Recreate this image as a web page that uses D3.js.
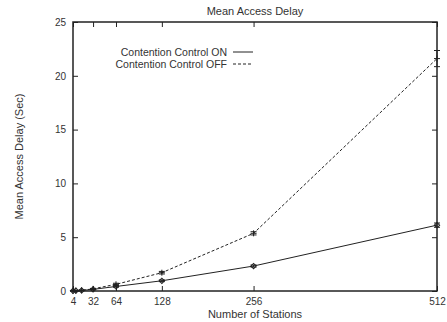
<!DOCTYPE html>
<html>
<head>
<meta charset="utf-8">
<script src="https://cdn.jsdelivr.net/npm/d3@7"></script>
<style>
  html, body { margin: 0; padding: 0; background: #fff; }
  svg { display: block; font-family: "Liberation Sans", Arial, sans-serif; }
</style>
</head>
<body>
<svg id="chart" width="447" height="322"></svg>
<script>
// Number of stations simulated
const stations = [4, 8, 16, 32, 64, 128, 256, 512];
// Mean access delay (s) with contention control enabled / disabled
const delayOn  = [0.02, 0.03, 0.05, 0.15, 0.42, 0.95, 2.32, 6.12];
const errOn    = [0.01, 0.01, 0.02, 0.03, 0.06, 0.08, 0.1, 0.2];
const delayOff = [0.02, 0.03, 0.06, 0.2, 0.62, 1.7, 5.36, 21.6];
const errOff   = [0.01, 0.01, 0.02, 0.04, 0.1, 0.12, 0.15, 0.75];
const xTicks = [4, 32, 64, 128, 256, 512];
const yTicks = [0, 5, 10, 15, 20, 25];

const series = [
  { name: "Contention Control ON",  values: delayOn,  errs: errOn,  dash: null,  marker: "diamond" },
  { name: "Contention Control OFF", values: delayOff, errs: errOff, dash: "3,2", marker: "plus" }
];

const svg = d3.select("#chart");
const m = { left: 73, right: 437, top: 22, bottom: 291 };
const x = d3.scaleLinear().domain([4, 512]).range([m.left, m.right]);
const y = d3.scaleLinear().domain([0, 25]).range([m.bottom, m.top]);
const ink = "#222";
const tick = 5;

// Axes: ticks point inward and are mirrored on the opposite side
const gB = svg.append("g").attr("transform", `translate(0,${m.bottom})`)
  .call(d3.axisBottom(x).tickValues(xTicks).tickSizeInner(-tick).tickSizeOuter(0).tickPadding(7));
const gT = svg.append("g").attr("transform", `translate(0,${m.top})`)
  .call(d3.axisTop(x).tickValues(xTicks).tickSizeInner(-tick).tickSizeOuter(0).tickFormat(""));
const gL = svg.append("g").attr("transform", `translate(${m.left},0)`)
  .call(d3.axisLeft(y).tickValues(yTicks).tickSizeInner(-tick).tickSizeOuter(0).tickPadding(7));
const gR = svg.append("g").attr("transform", `translate(${m.right},0)`)
  .call(d3.axisRight(y).tickValues(yTicks).tickSizeInner(-tick).tickSizeOuter(0).tickFormat(""));
[gB, gT, gL, gR].forEach(g => {
  g.select(".domain").remove();
  g.selectAll("line").attr("stroke", ink).attr("stroke-width", 1);
  g.selectAll("text").attr("fill", "#333").style("font-size", "10px")
    .style("font-family", '"Liberation Sans", Arial, sans-serif');
});

// Plot frame
svg.append("rect")
  .attr("x", m.left).attr("y", m.top)
  .attr("width", m.right - m.left).attr("height", m.bottom - m.top)
  .attr("fill", "none").attr("stroke", ink).attr("stroke-width", 1.5);

// Series lines, error bars and point markers
const line = d3.line().x((d, i) => x(stations[i])).y(d => y(d));
series.forEach(s => {
  svg.append("path").datum(s.values)
    .attr("d", line).attr("fill", "none")
    .attr("stroke", ink).attr("stroke-width", 1)
    .attr("stroke-dasharray", s.dash);

  const g = svg.append("g").attr("stroke", ink).attr("fill", "none").attr("stroke-width", 1);
  s.values.forEach((v, i) => {
    const cx = x(stations[i]), cy = y(v);
    const y0 = y(v - s.errs[i]), y1 = y(v + s.errs[i]);
    g.append("line").attr("x1", cx).attr("x2", cx).attr("y1", y0).attr("y2", y1);
    g.append("line").attr("x1", cx - 3).attr("x2", cx + 3).attr("y1", y0).attr("y2", y0);
    g.append("line").attr("x1", cx - 3).attr("x2", cx + 3).attr("y1", y1).attr("y2", y1);
    if (s.marker === "diamond") {
      g.append("path").attr("transform", `translate(${cx},${cy}) rotate(45)`)
        .attr("d", d3.symbol(d3.symbolSquare, 14)());
    } else {
      g.append("path").attr("transform", `translate(${cx},${cy})`)
        .attr("d", "M-3,0H3M0,-3V3");
    }
  });
});

// Legend
const legendRows = svg.append("g");
series.forEach((s, i) => {
  const ly = 52 + i * 12;
  legendRows.append("text")
    .attr("x", 227).attr("y", ly).attr("dy", "0.35em")
    .attr("text-anchor", "end").attr("fill", "#333")
    .style("font-size", "10.5px").text(s.name);
  legendRows.append("line")
    .attr("x1", 233).attr("x2", 253).attr("y1", ly).attr("y2", ly)
    .attr("stroke", ink).attr("stroke-width", 1)
    .attr("stroke-dasharray", s.dash);
});

// Title and axis titles
svg.append("text").attr("x", 255).attr("y", 15)
  .attr("text-anchor", "middle").attr("fill", "#333")
  .style("font-size", "11px").text("Mean Access Delay");
svg.append("text").attr("x", 255).attr("y", 318)
  .attr("text-anchor", "middle").attr("fill", "#333")
  .style("font-size", "11px").text("Number of Stations");
svg.append("text")
  .attr("transform", `translate(23,${(m.top + m.bottom) / 2}) rotate(-90)`)
  .attr("text-anchor", "middle").attr("fill", "#333")
  .style("font-size", "11px").text("Mean Access Delay (Sec)");
</script>
</body>
</html>
